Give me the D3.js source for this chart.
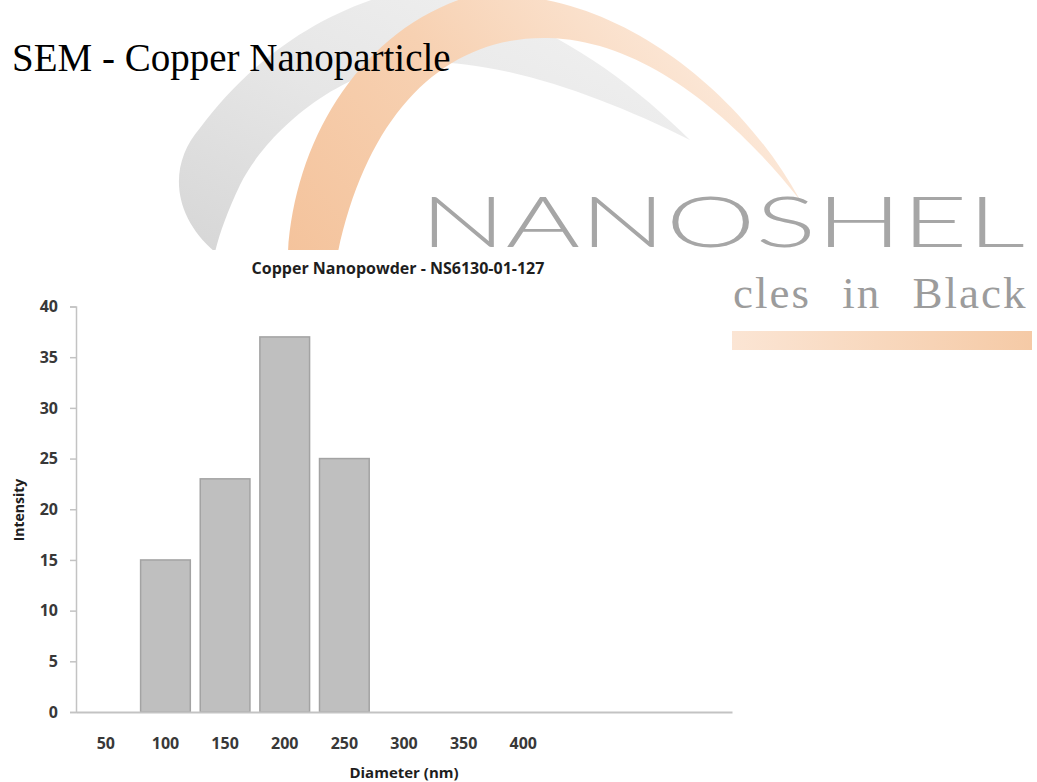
<!DOCTYPE html>
<html>
<head>
<meta charset="utf-8">
<script src="https://cdn.jsdelivr.net/npm/d3@7"></script>
<style>
  html, body { margin: 0; padding: 0; background: #ffffff; }
  svg { display: block; }
</style>
</head>
<body>
<svg id="chart" width="1037" height="782"></svg>
<script>
// ---- data ----
const pageTitle = "SEM - Copper Nanoparticle";
const chartTitle = "Copper Nanopowder - NS6130-01-127";
const xAxisTitle = "Diameter (nm)";
const yAxisTitle = "Intensity";
const categories = [50, 100, 150, 200, 250, 300, 350, 400, 450, 500, 550];
const xTickLabels = ["50", "100", "150", "200", "250", "300", "350", "400", "", "", ""];
const intensity = [0, 15, 23, 37, 25, 0, 0, 0, 0, 0, 0];
const yTickValues = [0, 5, 10, 15, 20, 25, 30, 35, 40];
const logoWord = "NANOSHEL";
const logoTagline = "cles in Black";

const svg = d3.select("#chart");
const defs = svg.append("defs");

// ---- watermark (logo) ----
const gGray = defs.append("linearGradient").attr("id", "gGray")
  .attr("x1", "0%").attr("y1", "100%").attr("x2", "100%").attr("y2", "0%");
gGray.append("stop").attr("offset", "0%").attr("stop-color", "#d6d6d6");
gGray.append("stop").attr("offset", "45%").attr("stop-color", "#e6e6e6");
gGray.append("stop").attr("offset", "100%").attr("stop-color", "#f3f3f3");

const gOrange = defs.append("linearGradient").attr("id", "gOrange")
  .attr("x1", "0%").attr("y1", "100%").attr("x2", "100%").attr("y2", "60%");
gOrange.append("stop").attr("offset", "0%").attr("stop-color", "#f4c39c");
gOrange.append("stop").attr("offset", "50%").attr("stop-color", "#f7d1b2");
gOrange.append("stop").attr("offset", "100%").attr("stop-color", "#fce9da");

const gBar = defs.append("linearGradient").attr("id", "gBar")
  .attr("x1", "0%").attr("y1", "0%").attr("x2", "100%").attr("y2", "0%");
gBar.append("stop").attr("offset", "0%").attr("stop-color", "#fbe5d4");
gBar.append("stop").attr("offset", "100%").attr("stop-color", "#f5caa6");

const logo = svg.append("g");
logo.append("path")
  .attr("d", "M215,252 C172,215 168,165 200,128 C240,75 300,20 390,-6 C500,-10 610,60 690,140 C600,95 500,60 420,62 C330,70 262,140 240,185 C228,210 220,232 215,252 Z")
  .attr("fill", "url(#gGray)");
logo.append("path")
  .attr("d", "M288,252 C295,140 360,30 470,-4 C610,-18 740,90 800,200 C735,118 645,40 548,38 C445,36 368,112 338,252 Z")
  .attr("fill", "url(#gOrange)");

logo.append("text")
  .attr("x", 420).attr("y", 247)
  .attr("textLength", 605).attr("lengthAdjust", "spacingAndGlyphs")
  .style("font-family", "Lato, 'DejaVu Sans', sans-serif")
  .style("font-weight", 300)
  .style("font-size", "70px")
  .attr("fill", "#a6a6a6")
  .text(logoWord);

// ---- chart image area (covers watermark) ----
svg.append("rect")
  .attr("x", 0).attr("y", 250).attr("width", 732).attr("height", 532)
  .attr("fill", "#ffffff");

// tagline and bar (sit right of chart area)
svg.append("text")
  .attr("x", 733).attr("y", 308)
  .style("font-family", "'Liberation Serif', 'Times New Roman', serif")
  .style("font-size", "45px")
  .style("letter-spacing", "2px")
  .style("word-spacing", "18px")
  .attr("fill", "#9c9c9c")
  .text(logoTagline);
svg.append("rect")
  .attr("x", 732).attr("y", 331).attr("width", 300).attr("height", 19)
  .attr("fill", "url(#gBar)");

// ---- page title ----
svg.append("text")
  .attr("x", 12).attr("y", 71)
  .style("font-family", "'Liberation Serif', 'Times New Roman', serif")
  .style("font-size", "39px")
  .attr("fill", "#000")
  .text(pageTitle);

// ---- chart ----
const x = d3.scaleBand()
  .domain(categories)
  .range([76, 732])
  .paddingInner(1 / 6)
  .paddingOuter(1 / 12);

const y = d3.scaleLinear().domain([0, 40]).range([712, 306.5]);

const axisFont = "'Open Sans', 'DejaVu Sans', sans-serif";
const textColor = "#383838";
const axisColor = "#c3c3c3";

// bars
svg.append("g").selectAll("rect")
  .data(categories.map((c, i) => ({ c, v: intensity[i] })).filter(d => d.v > 0))
  .join("rect")
  .attr("x", d => x(d.c))
  .attr("y", d => y(d.v))
  .attr("width", x.bandwidth())
  .attr("height", d => y(0) - y(d.v))
  .attr("fill", "#bfbfbf")
  .attr("stroke", "#a3a3a3")
  .attr("stroke-width", 1.5);

// y axis
const yAxis = svg.append("g")
  .attr("transform", "translate(76,0)")
  .call(d3.axisLeft(y).tickValues(yTickValues).tickSize(6).tickPadding(12).tickFormat(d3.format("d")));
yAxis.select(".domain").attr("stroke", axisColor).attr("stroke-width", 1.5);
yAxis.selectAll(".tick line").attr("stroke", axisColor).attr("stroke-width", 1.5);
yAxis.selectAll(".tick text")
  .style("font-family", axisFont).style("font-size", "16px").style("font-weight", "bold")
  .attr("fill", textColor);

// x axis
const xAxis = svg.append("g")
  .attr("transform", "translate(0,712)")
  .call(d3.axisBottom(x).tickSize(0).tickSizeOuter(0).tickPadding(26)
    .tickFormat((d, i) => xTickLabels[i]));
xAxis.select(".domain").attr("stroke", axisColor).attr("stroke-width", 2);
xAxis.selectAll(".tick text")
  .style("font-family", axisFont).style("font-size", "16px").style("font-weight", "bold")
  .attr("fill", textColor);

// chart title
svg.append("text")
  .attr("x", 398).attr("y", 274)
  .attr("text-anchor", "middle")
  .style("font-family", axisFont).style("font-size", "16px").style("font-weight", "bold")
  .attr("fill", "#1e1e1e")
  .text(chartTitle);

// axis titles
svg.append("text")
  .attr("transform", "translate(24,510) rotate(-90)")
  .attr("text-anchor", "middle")
  .style("font-family", axisFont).style("font-size", "14px").style("font-weight", "bold")
  .attr("fill", "#1e1e1e")
  .text(yAxisTitle);

svg.append("text")
  .attr("x", 404).attr("y", 778)
  .attr("text-anchor", "middle")
  .style("font-family", axisFont).style("font-size", "15px").style("font-weight", "bold")
  .attr("fill", "#1e1e1e")
  .text(xAxisTitle);
</script>
</body>
</html>
